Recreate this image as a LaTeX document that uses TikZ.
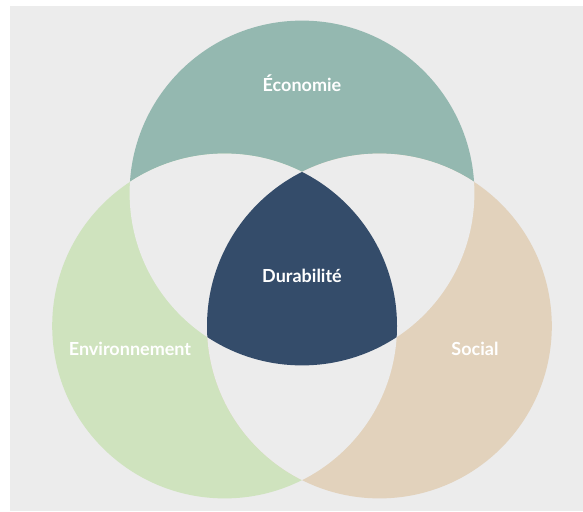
\documentclass[tikz,border=0pt]{standalone}
\usepackage{fontspec}
\setmainfont{Lato}
\definecolor{bggray}{HTML}{ECECEC}
\definecolor{ecoteal}{HTML}{94B8B0}
\definecolor{envgreen}{HTML}{CFE3BE}
\definecolor{socbeige}{HTML}{E2D2BC}
\definecolor{durnavy}{HTML}{344C6A}
\tikzset{
  lbl/.style={text=white, font=\bfseries\fontsize{18}{21}\selectfont, anchor=base, inner sep=0pt},
}
\begin{document}
\begin{tikzpicture}[x=1pt,y=-1pt]
\useasboundingbox (0,0) rectangle (583,511);
\fill[white] (0,0) rectangle (583,511);
\fill[bggray] (10,6) rectangle (583,511);
\def\R{172.4}
\coordinate (ct) at (302,193);
\coordinate (cl) at (224.6,326);
\coordinate (cr) at (379.4,326);
% single circles
\fill[ecoteal] (ct) circle[radius=\R];
\fill[envgreen] (cl) circle[radius=\R];
\fill[socbeige] (cr) circle[radius=\R];
% pairwise overlaps
\begin{scope}
  \clip (ct) circle[radius=\R];
  \fill[bggray] (cl) circle[radius=\R];
  \fill[bggray] (cr) circle[radius=\R];
\end{scope}
\begin{scope}
  \clip (cl) circle[radius=\R];
  \fill[bggray] (cr) circle[radius=\R];
\end{scope}
% triple overlap
\begin{scope}
  \clip (ct) circle[radius=\R];
  \clip (cl) circle[radius=\R];
  \fill[durnavy] (cr) circle[radius=\R];
\end{scope}
\node[lbl] (eco) at (302,91.5) {Économie};
\node[lbl] (dur) at (302,282) {Durabilité};
\node[lbl] (env) at (130,355) {Environnement};
\node[lbl] (soc) at (475,355) {Social};
\end{tikzpicture}
\end{document}
